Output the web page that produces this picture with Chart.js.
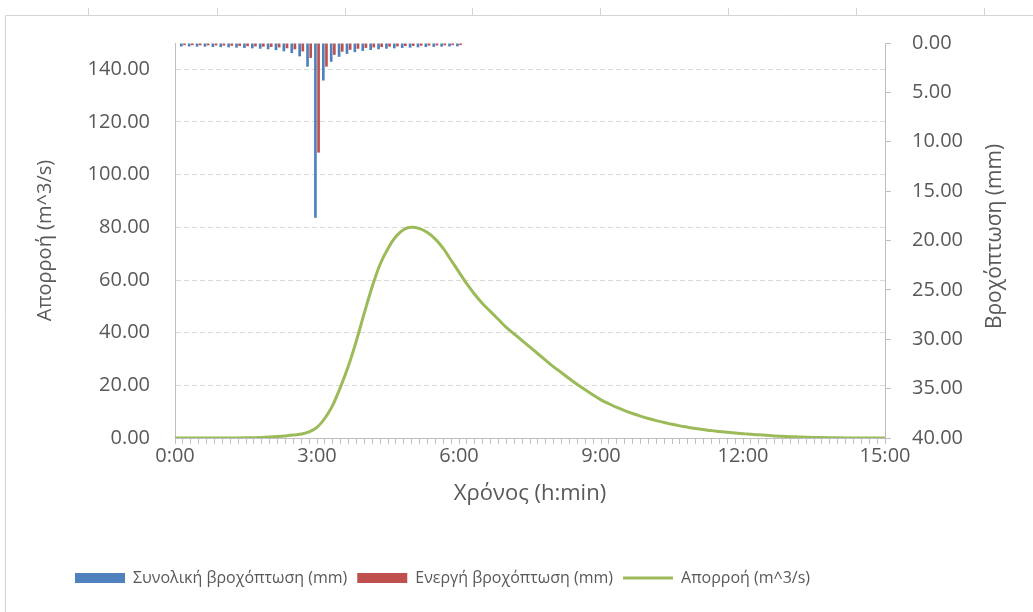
<!DOCTYPE html>
<html>
<head>
<meta charset="utf-8">
<script src="https://cdn.jsdelivr.net/npm/chart.js@4/dist/chart.umd.min.js"></script>
<style>
html,body{margin:0;padding:0;background:#fff;}
#wrap{width:1033px;height:612px;position:relative;}
</style>
</head>
<body>
<div id="wrap"><canvas id="c" width="1033" height="612"></canvas></div>
<script>
const times = [
 "0:00","0:10","0:20","0:30","0:40","0:50","1:00","1:10","1:20","1:30","1:40","1:50",
 "2:00","2:10","2:20","2:30","2:40","2:50","3:00","3:10","3:20","3:30","3:40","3:50",
 "4:00","4:10","4:20","4:30","4:40","4:50","5:00","5:10","5:20","5:30","5:40","5:50",
 "6:00","6:10","6:20","6:30","6:40","6:50","7:00","7:10","7:20","7:30","7:40","7:50",
 "8:00","8:10","8:20","8:30","8:40","8:50","9:00","9:10","9:20","9:30","9:40","9:50",
 "10:00","10:10","10:20","10:30","10:40","10:50","11:00","11:10","11:20","11:30","11:40","11:50",
 "12:00","12:10","12:20","12:30","12:40","12:50","13:00","13:10","13:20","13:30","13:40","13:50",
 "14:00","14:10","14:20","14:30","14:40","14:50","15:00"
];
const xTickLabels = ["0:00","3:00","6:00","9:00","12:00","15:00"];

// Συνολική βροχόπτωση (mm), 0:00 .. 6:00
const totalRain = [
 null,0.35,0.35,0.37,0.38,0.40,0.42,0.44,0.47,0.50,0.54,0.58,
 0.64,0.72,0.84,1.02,1.35,2.40,17.70,3.80,1.90,1.40,1.10,0.92,
 0.80,0.71,0.64,0.58,0.54,0.50,0.47,0.44,0.41,0.39,0.37,0.35,
 0.34
];
// Ενεργή βροχόπτωση (mm), 0:00 .. 6:00
const effectiveRain = [
 null,0.22,0.22,0.23,0.24,0.25,0.26,0.28,0.30,0.32,0.34,0.37,
 0.40,0.45,0.53,0.64,0.85,1.51,11.10,2.39,1.20,0.88,0.69,0.58,
 0.50,0.45,0.40,0.37,0.34,0.31,0.30,0.28,0.26,0.25,0.23,0.22,
 0.21
];
// Απορροή (m^3/s)
const runoff = [
 0,0,0,0,0,0,0,0,0.02,0.05,0.1,0.2,
 0.35,0.55,0.8,1.1,1.5,2.3,4.0,7.5,12.5,19.5,27.5,37,
 47.5,57.5,66,72,76.5,79.2,80.0,79.5,78,75.5,72,67.5,
 63,58.5,54.5,51,48,45,42,39.5,37,34.5,32,29.5,
 27,24.8,22.5,20.3,18.3,16.3,14.5,13,11.6,10.4,9.3,8.3,
 7.4,6.6,5.9,5.2,4.6,4.1,3.6,3.2,2.8,2.5,2.2,1.9,
 1.65,1.4,1.2,1.0,0.8,0.65,0.5,0.4,0.3,0.22,0.15,0.1,
 0.06,0.03,0.02,0.01,0,0,0
];

const TXT = '#595959';
const FONT = '"Open Sans", "Noto Sans", sans-serif';

const decor = {
  id: 'decor',
  beforeDraw(chart) {
    const ctx = chart.ctx;
    ctx.save();
    ctx.fillStyle = '#ffffff';
    ctx.fillRect(0, 0, chart.width, chart.height);
    ctx.strokeStyle = '#d4d4d4';
    ctx.lineWidth = 1;
    ctx.beginPath();
    ctx.moveTo(5.5, chart.height);
    ctx.lineTo(5.5, 15.5);
    ctx.lineTo(chart.width, 15.5);
    ctx.stroke();
    [88, 217, 345, 472, 600, 728, 856, 984].forEach(x => {
      ctx.beginPath();
      ctx.moveTo(x + 0.5, 8);
      ctx.lineTo(x + 0.5, 15);
      ctx.stroke();
    });
    ctx.restore();
  },
  afterLayout(chart) {
    if (chart.legend) {
      chart.legend.left += 36;
      chart.legend.right += 36;
    }
  },
  afterDraw(chart) {
    const s = chart.scales.y2;
    const ctx = chart.ctx;
    ctx.save();
    ctx.translate(995, (s.top + s.bottom) / 2 - 4);
    ctx.rotate(-Math.PI / 2);
    ctx.font = '21px ' + FONT;
    ctx.fillStyle = TXT;
    ctx.textAlign = 'center';
    ctx.textBaseline = 'middle';
    ctx.fillText('Βροχόπτωση (mm)', 0, 0);
    ctx.restore();
  }
};

new Chart(document.getElementById('c'), {
  type: 'bar',
  data: {
    labels: times,
    datasets: [
      {
        type: 'line',
        label: 'Απορροή (m^3/s)',
        data: runoff,
        yAxisID: 'y',
        borderColor: '#9bbb59',
        backgroundColor: '#9bbb59',
        borderWidth: 3,
        pointRadius: 0,
        pointStyle: 'line',
        cubicInterpolationMode: 'monotone',
        fill: false,
        order: 0
      },
      {
        label: 'Συνολική βροχόπτωση (mm)',
        data: totalRain,
        yAxisID: 'y2',
        backgroundColor: '#4f81bd',
        borderWidth: 0,
        pointStyle: 'rect',
        categoryPercentage: 0.8,
        barPercentage: 0.85,
        order: 1
      },
      {
        label: 'Ενεργή βροχόπτωση (mm)',
        data: effectiveRain,
        yAxisID: 'y2',
        backgroundColor: '#c0504d',
        borderWidth: 0,
        pointStyle: 'rect',
        categoryPercentage: 0.8,
        barPercentage: 0.85,
        order: 2
      }
    ]
  },
  options: {
    responsive: false,
    animation: false,
    layout: { padding: { top: 43, left: 29, right: 24, bottom: 16 } },
    font: { family: FONT },
    plugins: {
      tooltip: { enabled: false },
      legend: {
        position: 'bottom',
        align: 'start',
        labels: {
          usePointStyle: true,
          pointStyleWidth: 50,
          boxWidth: 50,
          boxHeight: 10,
          padding: 10,
          color: TXT,
          font: { family: FONT, size: 16 },
          sort: (a, b) => {
            const ord = [1, 2, 0];
            return ord.indexOf(a.datasetIndex) - ord.indexOf(b.datasetIndex);
          }
        }
      }
    },
    scales: {
      x: {
        type: 'category',
        offset: false,
        grid: {
          offset: false,
          drawOnChartArea: false,
          drawTicks: true,
          tickLength: 6,
          color: '#bfbfbf'
        },
        border: { display: true, color: '#bfbfbf' },
        ticks: {
          autoSkip: false,
          maxRotation: 0,
          minRotation: 0,
          padding: 0,
          color: TXT,
          font: { family: FONT, size: 20 },
          callback: function(v, i) {
            const l = times[i];
            return xTickLabels.includes(l) ? l : '';
          }
        },
        title: {
          display: true,
          text: 'Χρόνος (h:min)',
          color: TXT,
          font: { family: FONT, size: 22 },
          padding: { top: 4, bottom: 53 }
        },
        afterFit: s => { s.height = 122; }
      },
      y: {
        position: 'left',
        min: 0,
        max: 150,
        ticks: {
          stepSize: 20,
          padding: 25,
          color: TXT,
          font: { family: FONT, size: 20 },
          callback: v => Number(v).toFixed(2)
        },
        afterBuildTicks: s => { s.ticks = s.ticks.filter(t => t.value <= 140); },
        grid: {
          drawTicks: false,
          color: '#d9d9d9'
        },
        border: { display: true, color: '#bfbfbf', dash: [5, 3] },
        title: {
          display: true,
          text: 'Απορροή (m^3/s)',
          color: TXT,
          font: { family: FONT, size: 20 },
          padding: { top: 4, bottom: 4 }
        },
        afterFit: s => { s.width = 146; }
      },
      y2: {
        position: 'right',
        reverse: true,
        min: 0,
        max: 40,
        ticks: {
          stepSize: 5,
          padding: 21,
          color: TXT,
          font: { family: FONT, size: 20 },
          callback: v => Number(v).toFixed(2)
        },
        grid: {
          drawOnChartArea: false,
          drawTicks: true,
          tickLength: 6,
          color: '#bfbfbf'
        },
        border: { display: true, color: '#bfbfbf' },
        title: { display: false },
        afterFit: s => { s.width = 124; }
      }
    }
  },
  plugins: [decor]
});
</script>
</body>
</html>
